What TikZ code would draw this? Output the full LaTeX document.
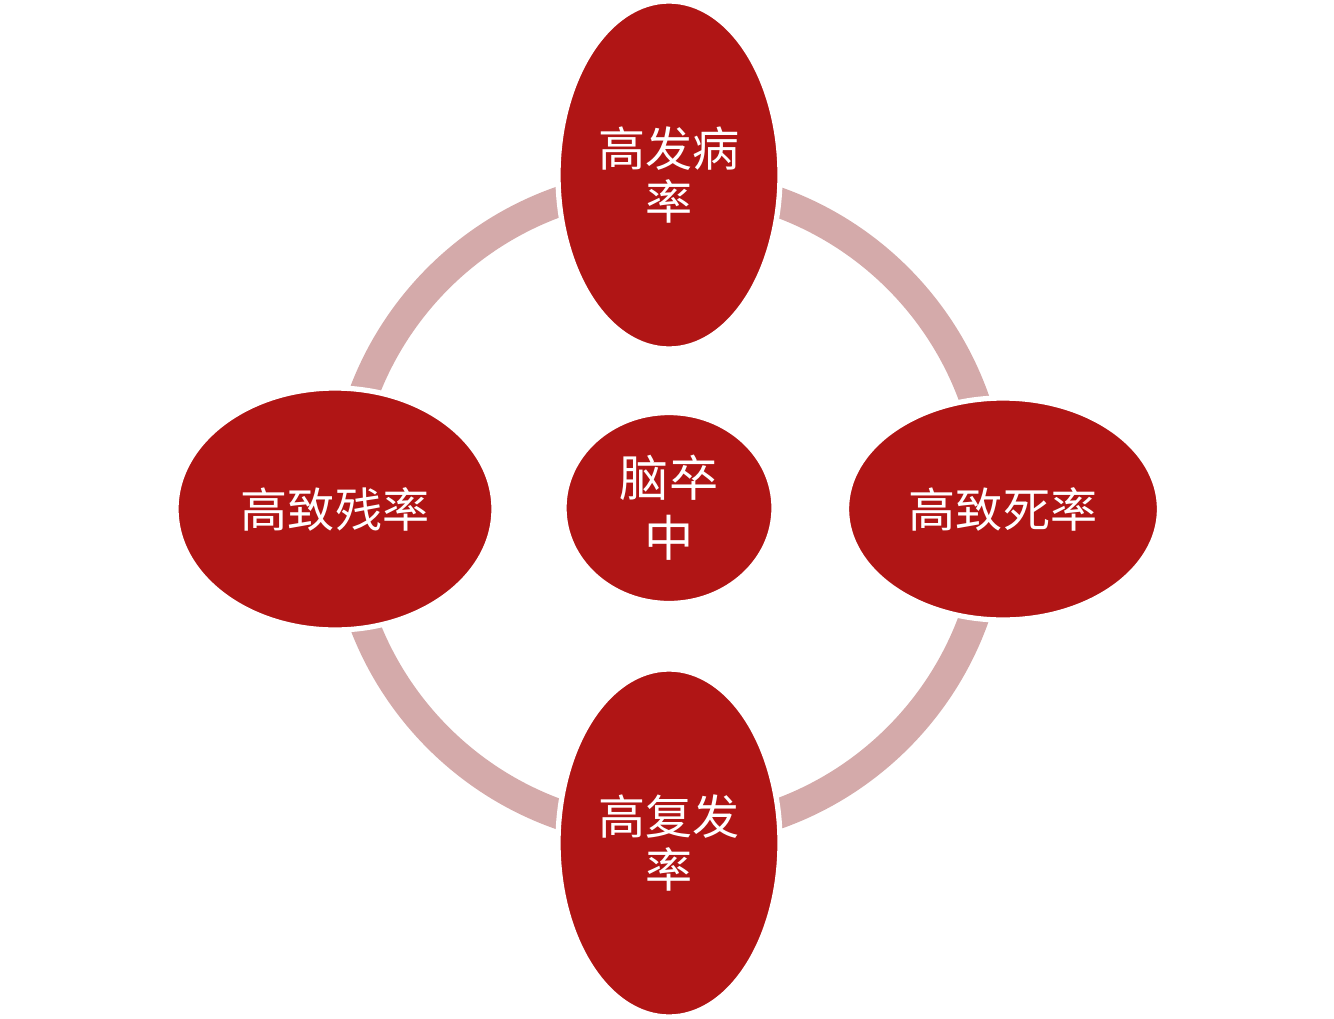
\documentclass[tikz,border=0pt]{standalone}
\usepackage{fontspec}
\setmainfont{Noto Sans CJK SC}
\usetikzlibrary{shapes.geometric}
\definecolor{redfill}{RGB}{176,21,21}
\definecolor{ringpink}{RGB}{212,170,170}
\begin{document}
\begin{tikzpicture}[every node/.style={ellipse, fill=redfill, draw=white, line width=1.5pt, inner sep=0pt, text=white, align=center, font=\fontsize{13.4pt}{15pt}\selectfont}]
        \useasboundingbox (0,0) rectangle (13.34,10.18);

        \draw[ringpink, line width=0.30cm] (6.68,5.10) circle (3.25cm);

        \node (A) at (6.69,8.43) [minimum width=2.22cm, minimum height=3.48cm] {高发病\\率};

        \node (B) at (10.03,5.09) [minimum width=3.13cm, minimum height=2.22cm] {高致死率};
        \node (C) at (6.69,1.75) [minimum width=2.22cm, minimum height=3.48cm] {高复发\\率};
        \node (D) at (3.35,5.09) [minimum width=3.18cm, minimum height=2.42cm] {高致残率};

        \node (E) at (6.69,5.10) [minimum width=2.10cm, minimum height=1.91cm, font=\fontsize{14pt}{17pt}\selectfont] {脑卒\\中};
    \end{tikzpicture}
\end{document}
